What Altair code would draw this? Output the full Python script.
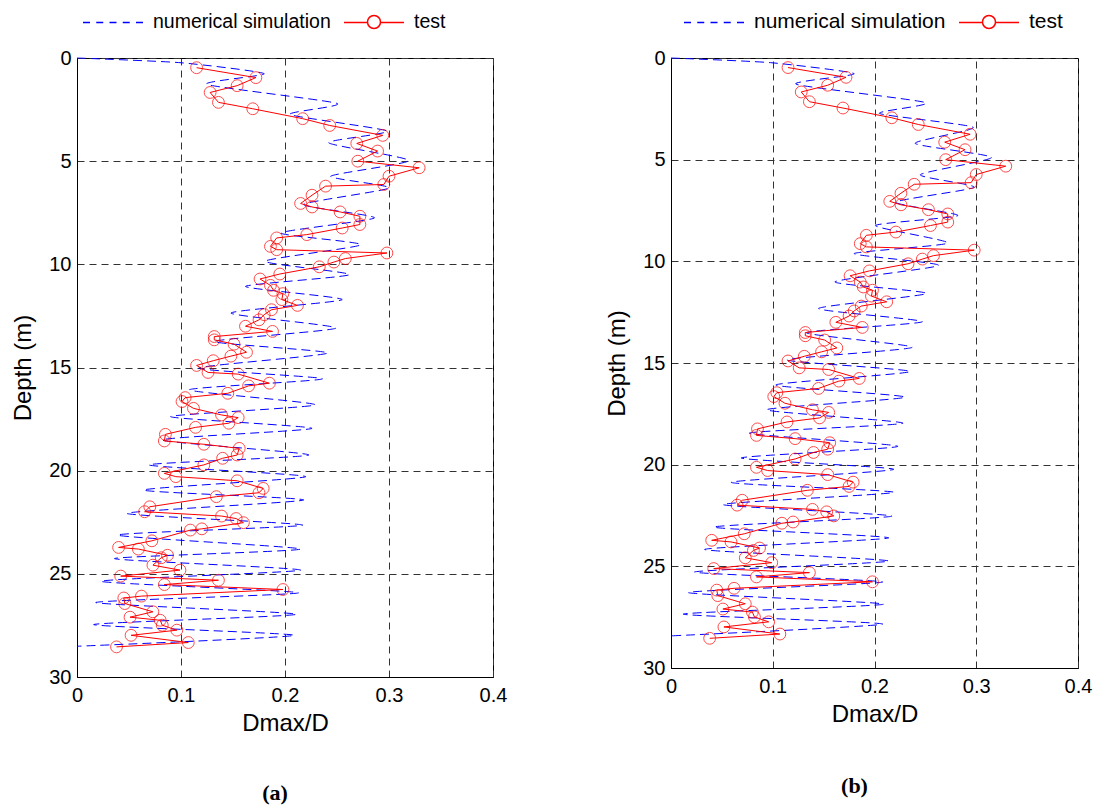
import altair as alt
import pandas as pd

# ---------------- data ----------------
test_depth = [0.47, 0.95, 1.34, 1.67, 2.15, 2.46, 2.94, 3.27, 3.75, 4.14,
              4.51, 5.00, 5.32, 5.73, 6.13, 6.21, 6.65, 7.05, 7.22, 7.46,
              7.67, 8.07, 8.24, 8.56, 8.72, 9.13, 9.29, 9.45, 9.72, 9.89,
              10.12, 10.47, 10.71, 11.02, 11.26, 11.42, 11.71, 11.99, 12.20, 12.44,
              12.69, 13.00, 13.25, 13.50, 13.66, 13.87, 14.26, 14.45, 14.67, 14.90,
              15.24, 15.32, 15.76, 15.89, 16.25, 16.46, 16.65, 16.98, 17.30, 17.43,
              17.70, 17.90, 18.24, 18.56, 18.72, 18.92, 19.24, 19.40, 19.72, 20.13,
              20.29, 20.49, 20.86, 21.07, 21.26, 21.75, 21.99, 22.20, 22.32, 22.52,
              22.82, 22.88, 23.40, 23.72, 23.80, 24.10, 24.22, 24.58, 24.82, 25.11,
              25.31, 25.52, 25.76, 26.08, 26.17, 26.44, 26.84, 27.10, 27.25, 27.49,
              27.73, 27.98, 28.33, 28.54]
test_value = [0.115, 0.172, 0.154, 0.128, 0.136, 0.169, 0.217, 0.243, 0.294, 0.269,
              0.289, 0.270, 0.329, 0.300, 0.295, 0.239, 0.226, 0.215, 0.226, 0.253,
              0.272, 0.272, 0.255, 0.221, 0.192, 0.186, 0.192, 0.298, 0.258, 0.247,
              0.233, 0.195, 0.176, 0.186, 0.189, 0.198, 0.197, 0.212, 0.187, 0.180,
              0.175, 0.162, 0.188, 0.132, 0.132, 0.151, 0.163, 0.148, 0.131, 0.115,
              0.126, 0.155, 0.185, 0.165, 0.145, 0.104, 0.101, 0.112, 0.139, 0.155,
              0.146, 0.114, 0.085, 0.084, 0.122, 0.156, 0.154, 0.140, 0.122, 0.084,
              0.095, 0.154, 0.179, 0.175, 0.134, 0.070, 0.065, 0.139, 0.153, 0.160,
              0.120, 0.109, 0.072, 0.040, 0.059, 0.087, 0.081, 0.073, 0.099, 0.042,
              0.136, 0.084, 0.198, 0.062, 0.045, 0.046, 0.073, 0.051, 0.080, 0.082,
              0.096, 0.052, 0.107, 0.038]

sim_a_depth = [0.00, 0.23, 0.76, 1.28, 2.20, 2.74, 3.54, 4.11, 4.97, 5.73,
               6.30, 7.10, 7.75, 8.48, 9.05, 9.85, 10.50, 11.07, 11.71, 12.36,
               13.09, 13.74, 14.30, 15.03, 15.55, 16.08, 16.81, 17.38, 17.95, 18.51,
               19.24, 19.72, 20.29, 20.94, 21.42, 22.07, 22.64, 23.12, 23.80, 24.26,
               24.82, 25.36, 25.92, 26.39, 26.96, 27.46, 27.98, 28.51]
sim_a_value = [0.000, 0.100, 0.180, 0.125, 0.250, 0.205, 0.298, 0.242, 0.319, 0.244,
               0.300, 0.218, 0.286, 0.196, 0.273, 0.181, 0.262, 0.162, 0.255, 0.148,
               0.249, 0.132, 0.241, 0.117, 0.236, 0.108, 0.229, 0.090, 0.226, 0.082,
               0.223, 0.069, 0.220, 0.064, 0.218, 0.048, 0.217, 0.039, 0.215, 0.036,
               0.215, 0.023, 0.213, 0.018, 0.211, 0.016, 0.209, 0.000]

sim_b_depth = [0.00, 0.23, 0.77, 1.29, 2.19, 2.73, 3.41, 4.20, 4.89, 5.74,
               6.36, 7.09, 7.75, 8.24, 9.10, 9.62, 10.20, 11.01, 11.58, 12.32,
               12.97, 13.51, 14.23, 14.85, 15.42, 16.08, 16.68, 17.30, 17.96, 18.45,
               19.10, 19.67, 20.23, 20.87, 21.36, 21.96, 22.53, 23.07, 23.60, 24.17,
               24.74, 25.28, 25.77, 26.29, 26.86, 27.35, 27.84, 28.42]
sim_b_value = [0.000, 0.098, 0.180, 0.123, 0.250, 0.205, 0.297, 0.240, 0.315, 0.245,
               0.298, 0.221, 0.282, 0.201, 0.272, 0.180, 0.263, 0.161, 0.251, 0.145,
               0.247, 0.133, 0.237, 0.114, 0.235, 0.103, 0.230, 0.094, 0.228, 0.077,
               0.223, 0.069, 0.219, 0.059, 0.219, 0.051, 0.217, 0.042, 0.214, 0.033,
               0.214, 0.023, 0.208, 0.017, 0.209, 0.012, 0.208, 0.000]

series_names = ["numerical simulation", "test"]
x_ticks = [0, 0.1, 0.2, 0.3, 0.4]
y_ticks = [0, 5, 10, 15, 20, 25, 30]
captions = ["(a)", "(b)"]

# ---------------- styling ----------------
FONT = "Liberation Sans"
BLUE = "#0000ff"
RED = "#ff0000"
# legend symbols (unit = 10 px with symbolSize 400): dashed line / line with circle
DASH_PATH = "M-1,0.05L-0.3,0.05M0.325,0.05L1.025,0.05M1.65,0.05L2.35,0.05M2.975,0.05L3.675,0.05M4.3,0.05L5,0.05"
TEST_PATH = ("M-1,0.05L1.35,0.05M2.65,0.05L5,0.05"
             "M2.65,0A0.65,0.65,0,1,1,1.35,0A0.65,0.65,0,1,1,2.65,0")


def legend_layer(df, x, y, name, colour, path, lx, font_size):
    leg = alt.Legend(orient="none", legendX=lx, legendY=-47,
                     direction="horizontal", title=None,
                     labelFont=FONT, labelFontSize=font_size, labelColor="black",
                     labelLimit=0, symbolType=path, symbolSize=400,
                     symbolStrokeWidth=1.5, symbolStrokeColor=colour,
                     symbolFillColor="transparent", symbolOpacity=1,
                     labelOffset=49, padding=0)
    return alt.Chart(df).transform_filter("false").mark_point(
        filled=False, size=400, strokeWidth=1
    ).encode(
        x=x, y=y,
        color=alt.Color("series:N",
                        scale=alt.Scale(domain=[name], range=[colour]),
                        legend=leg),
    )


def panel(sim_depth, sim_value, width, height, lx1, lx2, leg_fs, caption, cap_dx, cap_off):
    sim = pd.DataFrame({"depth": sim_depth, "value": sim_value})
    test = pd.DataFrame({"depth": test_depth, "value": test_value})

    x = alt.X("value:Q",
              scale=alt.Scale(domain=[0, 0.4], nice=False, zero=False),
              axis=alt.Axis(values=x_ticks, format="~g", title="Dmax/D",
                            labelFlush=False, labelPadding=8, titlePadding=6))
    y = alt.Y("depth:Q",
              scale=alt.Scale(domain=[0, 30], reverse=True, nice=False, zero=False),
              axis=alt.Axis(values=y_ticks, format="d", title="Depth (m)",
                            labelFlush=False, labelPadding=6, titlePadding=13))

    sim_line = alt.Chart(sim).mark_line(
        color=BLUE, strokeWidth=1, strokeDash=[9, 5],
        interpolate="cardinal", tension=0.4
    ).encode(x=x, y=y, order=alt.Order("depth:Q"))

    test_line = alt.Chart(test).mark_line(color=RED, strokeWidth=1).encode(
        x=x, y=y, order=alt.Order("depth:Q"))

    test_pts = alt.Chart(test).mark_point(
        shape="circle", filled=False, color=RED, size=140, strokeWidth=1
    ).encode(x=x, y=y)

    leg1 = legend_layer(test, x, y, series_names[0], BLUE, DASH_PATH, lx1, leg_fs)
    leg2 = legend_layer(test, x, y, series_names[1], RED, TEST_PATH, lx2, leg_fs)

    return alt.layer(sim_line, test_line, test_pts, leg1, leg2).resolve_scale(
        color="independent"
    ).resolve_legend(color="independent").properties(
        width=width, height=height,
        title=alt.TitleParams(text=caption, orient="bottom", anchor="middle",
                              font="Liberation Serif", fontSize=22,
                              fontWeight="bold", color="black",
                              offset=cap_off, dx=cap_dx)
    )


pa = panel(sim_a_depth, sim_a_value, 416, 619, 5, 266, 19.5, captions[0], -10, 48)
pb = panel(sim_b_depth, sim_b_value, 407, 610, 12, 287, 21, captions[1], -20, 50)

chart = alt.hconcat(pa, pb, spacing=97).resolve_scale(
    color="independent"
).resolve_legend(
    color="independent"
).properties(
    padding={"left": 3, "top": 2, "right": 0, "bottom": 0}
).configure_view(
    stroke="black", strokeWidth=1
).configure_axis(
    labelFont=FONT, labelFontSize=20, labelColor="black",
    titleFont=FONT, titleFontSize=24, titleFontWeight="normal", titleColor="black",
    ticks=False, domain=True, domainColor="black", domainWidth=1,
    grid=True, gridColor="#333333", gridDash=[7, 5], gridWidth=1, gridOpacity=1
)

chart.save("out.html", embed_options={"renderer": "svg", "actions": False})
